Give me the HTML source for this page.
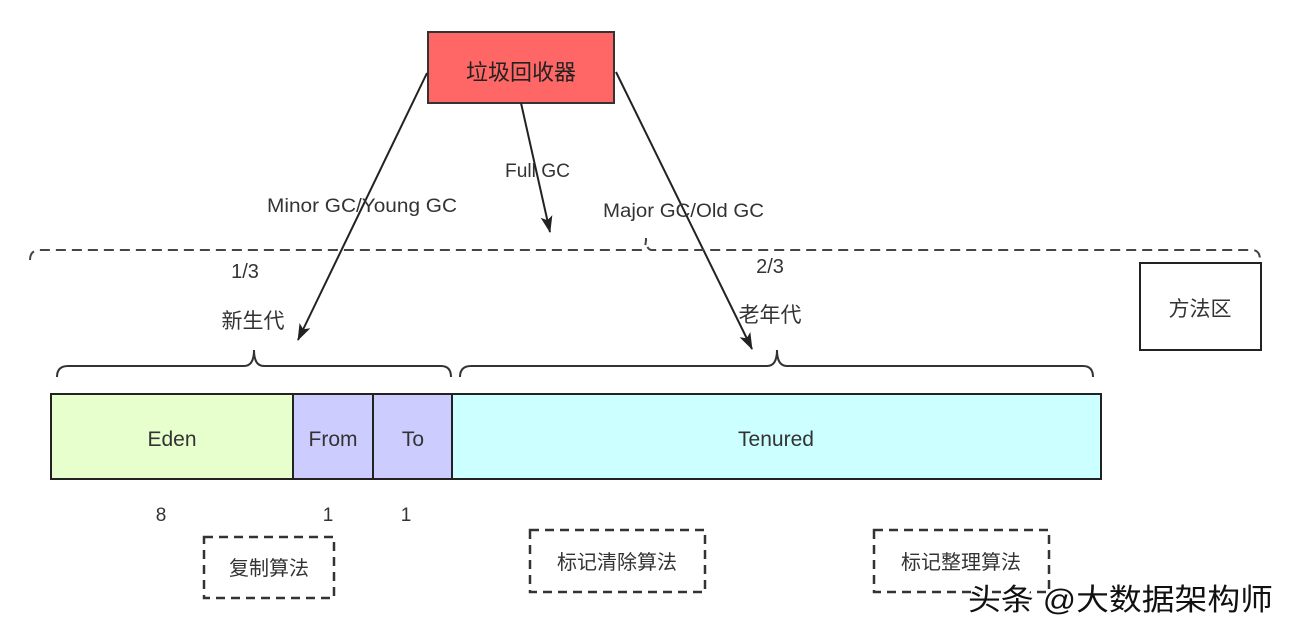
<!DOCTYPE html>
<html><head><meta charset="utf-8"><style>
html,body{margin:0;padding:0;background:#fff;}
svg{display:block;font-family:"Liberation Sans","Noto Sans CJK SC",sans-serif;}
</style></head><body>
<svg width="1293" height="631" viewBox="0 0 1293 631" xmlns="http://www.w3.org/2000/svg">
<defs><marker id="a" markerWidth="18" markerHeight="14" refX="16" refY="7" orient="auto" markerUnits="userSpaceOnUse"><path d="M0,1 L17,7 L0,13 L4,7 Z" fill="#222"/></marker></defs>
<rect x="428" y="32" width="186" height="71" fill="#ff6666" stroke="#333" stroke-width="2"/>
<text x="521" y="80" font-size="22" text-anchor="middle" fill="#222">垃圾回收器</text>
<g stroke="#222" stroke-width="2" fill="none">
<line x1="427" y1="73" x2="298" y2="340" marker-end="url(#a)"/>
<line x1="521" y1="103" x2="550" y2="232" marker-end="url(#a)"/>
<line x1="616" y1="72" x2="752" y2="349" marker-end="url(#a)"/>
</g>
<g font-size="19" fill="#333">
<text x="267" y="212" textLength="190" lengthAdjust="spacingAndGlyphs">Minor GC/Young GC</text>
<text x="505" y="177" textLength="65" lengthAdjust="spacingAndGlyphs">Full GC</text>
<text x="603" y="217" textLength="161" lengthAdjust="spacingAndGlyphs">Major GC/Old GC</text>
</g>
<path d="M30,260 Q30,250 40,250 L640,250 Q646,250 646,238 Q646,250 652,250 L1252,250 Q1260,250 1260,260" stroke="#444" stroke-width="2" stroke-dasharray="10,6" fill="none"/>
<g font-size="20" fill="#333" text-anchor="middle">
<text x="245" y="278">1/3</text>
<text x="253" y="328" font-size="21">新生代</text>
<text x="770" y="273">2/3</text>
<text x="770" y="322" font-size="21">老年代</text>
</g>
<rect x="1140" y="263" width="121" height="87" fill="#fff" stroke="#222" stroke-width="2"/>
<text x="1200" y="316" font-size="21" text-anchor="middle" fill="#333">方法区</text>
<g stroke="#333" stroke-width="2" fill="none">
<path d="M57,377 Q57,366 68,366 L244,366 Q254,366 254,350 Q254,366 264,366 L441,366 Q451,366 451,377"/>
<path d="M460,377 Q460,366 471,366 L767,366 Q777,366 777,350 Q777,366 787,366 L1083,366 Q1093,366 1093,377"/>
</g>
<g stroke="#222" stroke-width="2">
<rect x="51" y="394" width="242" height="85" fill="#e6ffcc"/>
<rect x="293" y="394" width="80" height="85" fill="#ccccff"/>
<rect x="373" y="394" width="79" height="85" fill="#ccccff"/>
<rect x="452" y="394" width="649" height="85" fill="#ccffff"/>
</g>
<g font-size="21" fill="#333" text-anchor="middle">
<text x="172" y="446">Eden</text>
<text x="333" y="446">From</text>
<text x="413" y="446">To</text>
<text x="776" y="446">Tenured</text>
</g>
<g font-size="19" fill="#333" text-anchor="middle">
<text x="161" y="521">8</text><text x="328" y="521">1</text><text x="406" y="521">1</text>
</g>
<g stroke="#333" stroke-width="2.5" stroke-dasharray="9,6" fill="none">
<rect x="204" y="537" width="130" height="61"/>
<rect x="530" y="530" width="175" height="62"/>
<rect x="874" y="530" width="175" height="62"/>
</g>
<g font-size="20" fill="#333" text-anchor="middle">
<text x="269" y="575">复制算法</text>
<text x="617" y="569">标记清除算法</text>
<text x="961" y="569">标记整理算法</text>
</g>
<text x="970" y="612" font-size="30" fill="#fff" stroke="#fff" stroke-width="4" textLength="305" lengthAdjust="spacingAndGlyphs">头条 @大数据架构师</text>
<text x="968" y="610" font-size="30" fill="#111" textLength="305" lengthAdjust="spacingAndGlyphs">头条 @大数据架构师</text>
</svg>
</body></html>
